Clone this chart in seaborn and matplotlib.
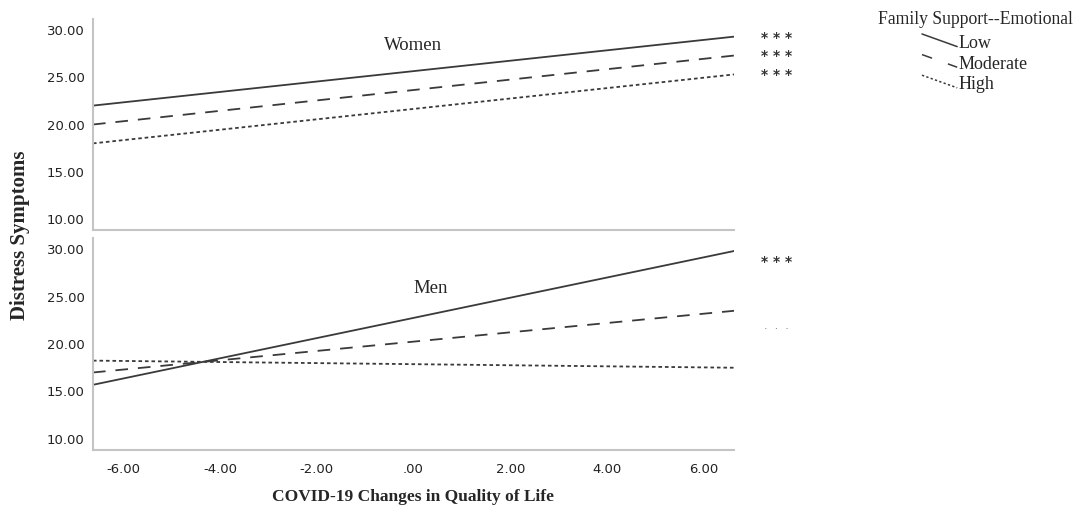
import pandas as pd
import matplotlib
matplotlib.use("Agg")
import matplotlib.pyplot as plt
import seaborn as sns
from matplotlib.lines import Line2D
from matplotlib.legend_handler import HandlerLine2D

# data (predicted distress at min / max of QoL change)
qol_range = [-6.63, 6.63]
levels = ["Low", "Moderate", "High"]
women_start = [22.0, 20.0, 18.0]
women_end = [29.3, 27.3, 25.3]
men_start = [15.7, 17.0, 18.25]
men_end = [29.8, 23.5, 17.5]
women_sig = ["* * *", "* * *", "* * *"]
men_sig = ["* * *", "\u00b7  \u00b7  \u00b7"]
men_sig_y = [28.7, 21.6]
x_ticks = [-6, -4, -2, 0, 2, 4, 6]
x_ticklabels = ["-6.00", "-4.00", "-2.00", ".00", "2.00", "4.00", "6.00"]
y_ticks = [10, 15, 20, 25, 30]
y_ticklabels = ["10.00", "15.00", "20.00", "25.00", "30.00"]


def long_df(start, end):
    rows = []
    for lev, s, e in zip(levels, start, end):
        rows.append({"qol": qol_range[0], "distress": s, "support": lev})
        rows.append({"qol": qol_range[1], "distress": e, "support": lev})
    return pd.DataFrame(rows)


sns.set_style("white")
serif = ["Liberation Serif", "DejaVu Serif"]
line_col = "#3a3a3a"
dash_map = {"Low": "", "Moderate": (7, 5.5), "High": (2, 1.6)}

fig = plt.figure(figsize=(10.76, 5.09), dpi=100)
ax_w = fig.add_axes([0.0864, 0.5481, 0.5958, 0.4146])
ax_m = fig.add_axes([0.0864, 0.1159, 0.5958, 0.4165])

for ax, start, end in [(ax_w, women_start, women_end), (ax_m, men_start, men_end)]:
    sns.lineplot(data=long_df(start, end), x="qol", y="distress", style="support",
                 style_order=levels, dashes=dash_map, color=line_col, linewidth=1.3,
                 legend=False, ax=ax)
    ax.set_xlim(qol_range)
    ax.set_ylim(8.83, 31.17)
    ax.set_yticks(y_ticks)
    ax.set_yticklabels(y_ticklabels, fontsize=9.5, color="#222222")
    ax.set_xticks(x_ticks)
    ax.set_xlabel("")
    ax.set_ylabel("")
    ax.tick_params(length=0, pad=6)
    for side in ["top", "right"]:
        ax.spines[side].set_visible(False)
    for side in ["left", "bottom"]:
        ax.spines[side].set_color("#c4c4c4")
        ax.spines[side].set_linewidth(1.5)

ax_w.set_xticklabels([])
ax_m.set_xticklabels(x_ticklabels, fontsize=9.5, color="#222222")
ax_m.tick_params(axis="x", pad=9)

ax_w.text(0, 28.4, "Women", ha="center", va="center", family=serif, fontsize=13.5)
ax_m.text(0.35, 25.8, "Men", ha="center", va="center", family=serif, fontsize=13.5)

# significance marks to the right of the line ends
for s, y in zip(women_sig, women_end):
    ax_w.text(7.5, y - 0.1, s, ha="center", va="center", fontsize=10, fontweight="bold",
              color="#333333", clip_on=False)
ax_m.text(7.5, men_sig_y[0] - 0.1, men_sig[0], ha="center", va="center", fontsize=10,
          fontweight="bold", color="#333333", clip_on=False)
ax_m.text(7.5, men_sig_y[1], men_sig[1], ha="center", va="center", fontsize=8,
          color="#777777", clip_on=False)

fig.text(0.384, 0.0236, "COVID-19 Changes in Quality of Life", ha="center", va="center",
         family=serif, fontsize=12.5, fontweight="bold")
fig.text(0.019, 0.537, "Distress Symptoms", ha="center", va="center", rotation=90,
         family=serif, fontsize=15, fontweight="bold")


class DiagonalHandler(HandlerLine2D):
    def create_artists(self, legend, orig_handle, xdescent, ydescent, width, height, fontsize, trans):
        line = Line2D([-xdescent, -xdescent + width], [height + 1, 1])
        self.update_prop(line, orig_handle, legend)
        line.set_transform(trans)
        return [line]


fig.text(878 / 1076, 1 - 20 / 509, "Family Support--Emotional", ha="left", va="center",
         family=serif, fontsize=12.7)
handles = [Line2D([], [], color=line_col, linewidth=1.1, linestyle=ls)
           for ls in ["-", (0, (7, 11)), (0, (1.5, 1.5))]]
leg = fig.legend(handles, levels, loc="upper left", bbox_to_anchor=(922 / 1076, 1 - 35 / 509),
                 frameon=False, handlelength=1.95, handletextpad=0.05, labelspacing=0.2,
                 borderaxespad=0, borderpad=0, prop={"family": serif, "size": 13},
                 handler_map={Line2D: DiagonalHandler()})

fig.savefig("out.png", dpi=100)
